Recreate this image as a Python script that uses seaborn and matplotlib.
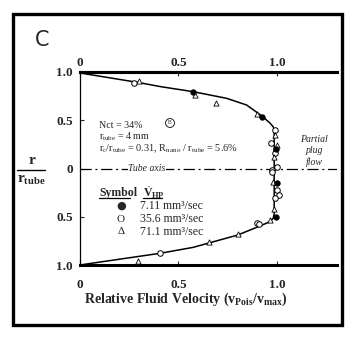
import numpy as np
import pandas as pd
import matplotlib
matplotlib.use("Agg")
import matplotlib.pyplot as plt
from matplotlib.patches import Rectangle
from matplotlib.lines import Line2D
import seaborn as sns

# ---- data ----
curve_x = [0.0, 0.15, 0.30, 0.41, 0.575, 0.745, 0.846, 0.924, 0.965, 0.981, 0.986,
           0.986, 0.981, 0.965, 0.914, 0.80, 0.575, 0.406, 0.288, 0.15, 0.0]
curve_y = [0.99, 0.94, 0.89, 0.848, 0.796, 0.727, 0.658, 0.544, 0.47, 0.433, 0.40,
           -0.47, -0.516, -0.55, -0.596, -0.69, -0.817, -0.879, -0.914, -0.955, -1.0]

filled_x = [0.572, 0.924, 0.993, 1.0, 0.993]
filled_y = [0.796, 0.53, 0.20, -0.153, -0.50]

open_x = [0.274, 0.99, 0.97, 0.988, 1.0, 0.975, 0.975, 0.998, 1.01, 0.99, 0.90, 0.91, 0.408]
open_y = [0.883, 0.40, 0.26, 0.165, 0.012, -0.012, -0.04, -0.223, -0.27, -0.31, -0.565, -0.57, -0.873]

tri_x = [0.301, 0.584, 0.69, 0.90, 0.99, 1.0, 0.986, 0.978, 0.986, 0.965, 0.80, 0.653, 0.293]
tri_y = [0.91, 0.762, 0.682, 0.565, 0.35, 0.245, 0.12, -0.137, -0.42, -0.534, -0.68, -0.76, -0.955]

xticks = [0, 0.5, 1.0]
xticklabels = ["0", "0.5", "1.0"]
yticks = [1.0, 0.5, 0.0, -0.5, -1.0]
yticklabels = ["1.0", "0.5", "0", "0.5", "1.0"]
legend_labels = ["7.11 mm³/sec", "35.6 mm³/sec", "71.1 mm³/sec"]

# ---- style ----
sns.set_style("white")
plt.rcParams["font.family"] = ["Liberation Serif", "DejaVu Serif", "DejaVu Sans"]
plt.rcParams["mathtext.fontset"] = "custom"
plt.rcParams["mathtext.rm"] = "Liberation Serif"
plt.rcParams["mathtext.it"] = "Liberation Serif:italic"
plt.rcParams["mathtext.bf"] = "Liberation Serif:bold"

W, H = 353, 341
fig = plt.figure(figsize=(W / 100, H / 100), dpi=100)

def P(x, y):
    return (x / W, 1 - y / H)

ax = fig.add_axes([80 / W, 76 / H, 257 / W, 193 / H])
ax.set_facecolor("none")

curve_df = pd.DataFrame({"x": curve_x, "y": curve_y})
sns.lineplot(data=curve_df, x="x", y="y", sort=False, estimator=None,
             color="black", lw=1.1, ax=ax)

df_f = pd.DataFrame({"x": filled_x, "y": filled_y})
df_o = pd.DataFrame({"x": open_x, "y": open_y})
df_t = pd.DataFrame({"x": tri_x, "y": tri_y})
sns.scatterplot(data=df_o, x="x", y="y", marker="o", s=16, facecolor="white",
                edgecolor="black", linewidth=0.7, ax=ax, zorder=3)
sns.scatterplot(data=df_t, x="x", y="y", marker="^", s=14, facecolor="white",
                edgecolor="black", linewidth=0.6, ax=ax, zorder=3)
sns.scatterplot(data=df_f, x="x", y="y", marker="o", s=16, color="black",
                edgecolor="black", linewidth=0.5, ax=ax, zorder=4)

# tube axis
ax.axhline(0, color="black", lw=0.9, ls=(0, (9, 3, 1.5, 3)), zorder=1)
ax.text(0.34, 0.0, "Tube axis", fontsize=7, style="italic", ha="center", va="center",
        bbox=dict(facecolor="white", edgecolor="none", pad=0.5), zorder=2)

ax.set_xlim(0, 1.305)
ax.set_ylim(-1.0, 1.0)
ax.set_xticks(xticks)
ax.set_xticklabels(xticklabels)
ax.set_yticks(yticks)
ax.set_yticklabels(yticklabels)
ax.set_xlabel("")
ax.set_ylabel("")
ax.tick_params(axis="x", direction="in", length=3, width=0.8,
               top=False, bottom=True, labeltop=False, labelbottom=True, pad=10,
               labelsize=9.5)
ax.tick_params(axis="y", direction="in", length=3, width=0.8, left=True, pad=5,
               labelsize=9.5)
for lbl in ax.get_xticklabels() + ax.get_yticklabels():
    lbl.set_fontweight("bold")

# top axis with its own labels
sec = ax.secondary_xaxis("top")
sec.set_xticks(xticks)
sec.set_xticklabels(xticklabels)
sec.tick_params(axis="x", direction="in", length=3, width=0.8, pad=2, labelsize=9.5)
for lbl in sec.get_xticklabels():
    lbl.set_fontweight("bold")
sec.spines["top"].set_linewidth(2.2)
sec.spines["top"].set_color("black")

for s in ["top", "bottom"]:
    ax.spines[s].set_linewidth(2.2)
    ax.spines[s].set_color("black")
ax.spines["left"].set_linewidth(0.9)
ax.spines["left"].set_color("black")
ax.spines["right"].set_visible(False)

# x label
fig.text(*P(186, 299), r"Relative Fluid Velocity ($\mathbf{v_{Pois}/v_{max}}$)",
         fontsize=10, fontweight="bold", ha="center", va="center")

# y label as fraction
fig.text(*P(32, 161), "r", fontsize=11, fontweight="bold", ha="center", va="center")
fig.add_artist(Line2D([17 / W, 45 / W], [1 - 169.5 / H, 1 - 169.5 / H], color="black", lw=1.0))
fig.text(*P(31, 180), r"$\mathbf{r_{tube}}$", fontsize=11, ha="center", va="center")

# panel letter
fig.text(*P(42, 40), "C", fontsize=15, family="DejaVu Sans", ha="center", va="center")

# annotations
fig.text(*P(99, 125), "Nct = 34%", fontsize=7.2, ha="left", va="center")
fig.text(*P(99, 137), r"$\mathrm{r_{tube}}$ = 4 mm", fontsize=7.2, ha="left", va="center")
fig.text(*P(99, 149), r"$\mathrm{r_c/r_{tube}}$ = 0.31, $\mathrm{R_{nano}}$ / $\mathrm{r_{tube}}$ = 5.6%",
         fontsize=7.4, ha="left", va="center")
fig.text(*P(170, 123), "B", fontsize=4, ha="center", va="center",
         bbox=dict(boxstyle="circle,pad=0.35", facecolor="white", edgecolor="black", lw=0.6))

fig.text(*P(314, 151), "Partial\nplug\nflow", fontsize=7, style="italic",
         ha="center", va="center", linespacing=1.25)

# legend block
fig.text(*P(99, 193), "Symbol", fontsize=8.5, fontweight="bold", ha="left", va="center")
fig.add_artist(Line2D([99 / W, 130 / W], [1 - 197.5 / H, 1 - 197.5 / H], color="black", lw=0.9))
fig.text(*P(143, 193), r"$\dot{\mathbf{V}}_{\mathbf{HP}}$", fontsize=8.5, ha="left", va="center")
fig.add_artist(Line2D([143 / W, 162 / W], [1 - 197.5 / H, 1 - 197.5 / H], color="black", lw=0.9))
sym_y = [206, 219, 232]
fig.text(*P(121, sym_y[0]), "●", fontsize=8, family="DejaVu Sans", ha="center", va="center")
fig.text(*P(121, sym_y[1]), "O", fontsize=8, ha="center", va="center")
fig.text(*P(121, sym_y[2]), "Δ", fontsize=8, ha="center", va="center")
for yy, lab in zip(sym_y, legend_labels):
    fig.text(*P(140, yy), lab, fontsize=8.5, ha="left", va="center")

# outer frame
fig.add_artist(Rectangle((13 / W, 16 / H), 329 / W, 311 / H, transform=fig.transFigure,
                         fill=False, edgecolor="black", lw=2.4))

fig.savefig("out.png", dpi=100)
